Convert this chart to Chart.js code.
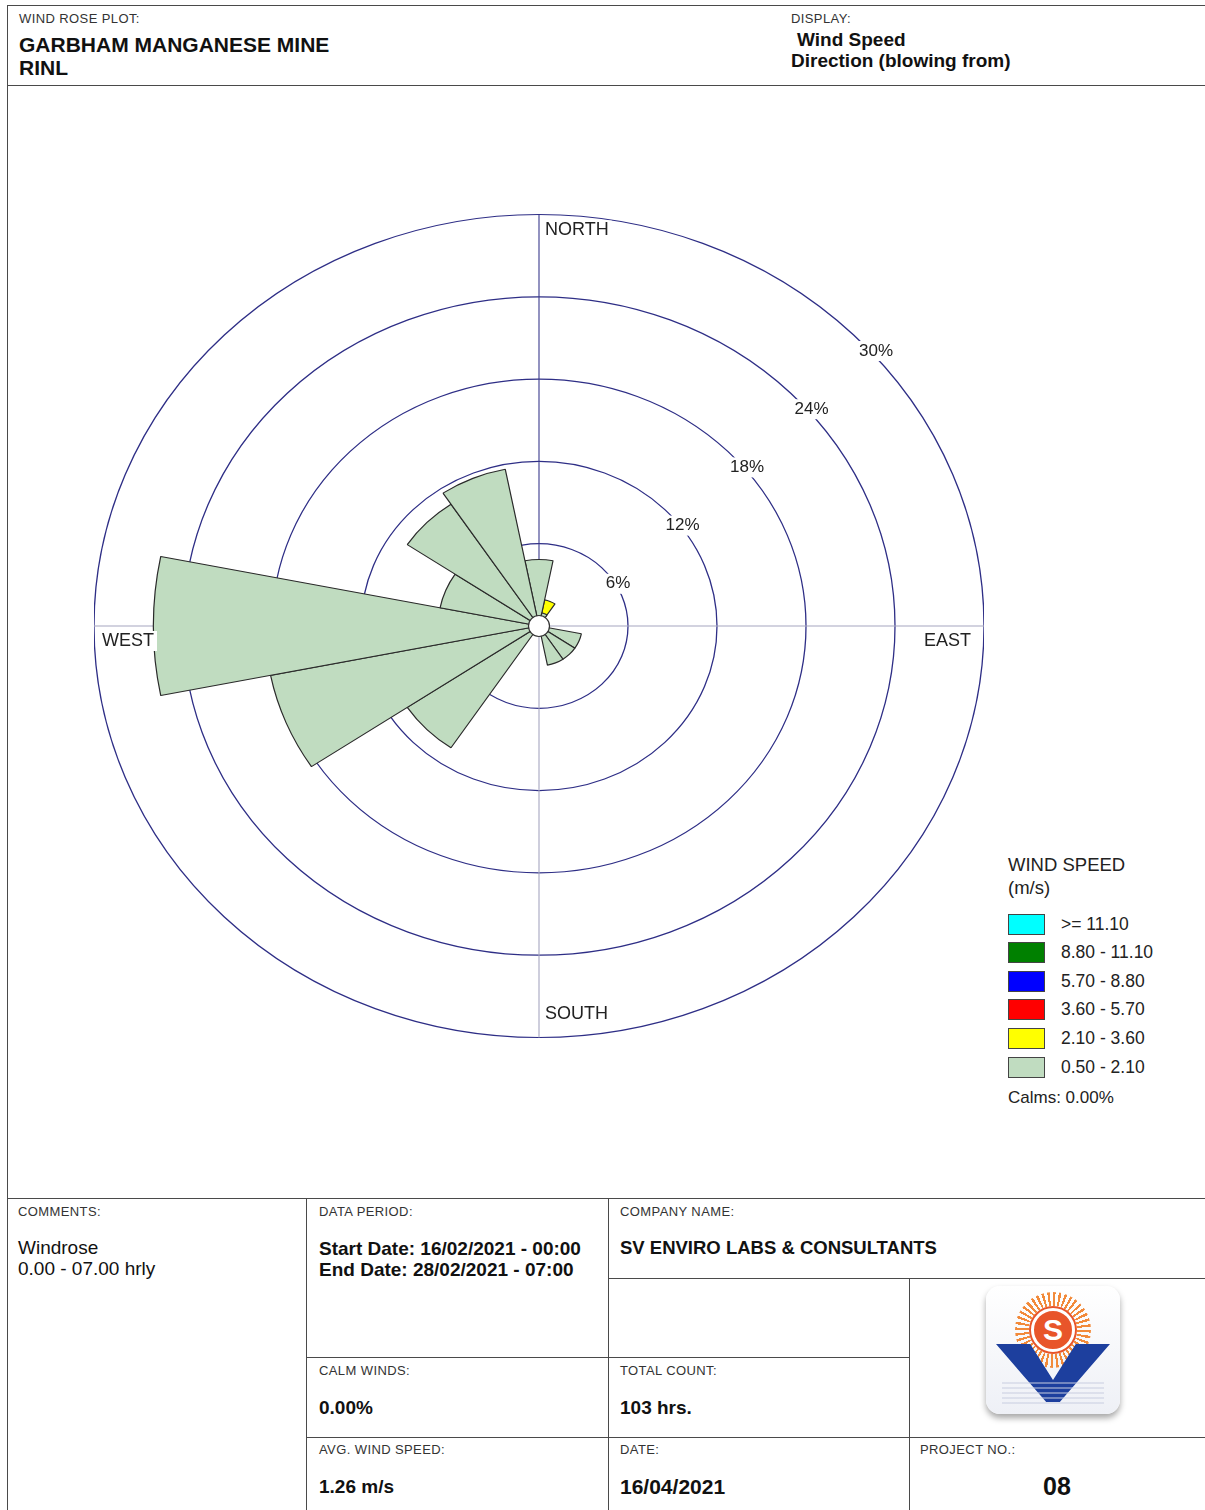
<!DOCTYPE html>
<html>
<head>
<meta charset="utf-8">
<title>Wind Rose</title>
<script src="https://cdn.jsdelivr.net/npm/chart.js@4.4.0/dist/chart.umd.min.js"></script>
<style>
  body { margin: 0; background: #fff; font-family: "Liberation Sans", Arial, sans-serif; color: #111; }
  #page { position: relative; width: 1205px; height: 1510px; overflow: hidden; background: #fff; }
  .t { position: absolute; white-space: nowrap; line-height: 1; }
  .small { font-size: 13px; letter-spacing: 0.4px; color: #333; }
  .bold { font-weight: bold; font-size: 19px; }
  .h { position: absolute; height: 0; border-top: 1.5px solid #4a4a4a; }
  .v { position: absolute; width: 0; border-left: 1.5px solid #4a4a4a; }
  #chartBox { position: absolute; left: 94px; top: 181px; width: 890px; height: 890px; }
  .sw { position: absolute; left: 1008px; width: 35px; height: 19px; border: 1px solid #444; }
  #logo { position: absolute; left: 986px; top: 1286px; width: 134px; height: 128px; border-radius: 14px;
          background: linear-gradient(#ffffff, #eef0f6); box-shadow: 0 4px 6px rgba(0,0,0,0.35); overflow: hidden; }
</style>
</head>
<body>
<div id="page">
  <!-- frame -->
  <div class="h" style="left:7px; top:5px; width:1198px;"></div>
  <div class="v" style="left:7px; top:5px; height:1505px;"></div>
  <div class="h" style="left:7px; top:85px; width:1198px;"></div>
  <div class="h" style="left:7px; top:1198px; width:1198px;"></div>
  <div class="v" style="left:306px; top:1198px; height:312px;"></div>
  <div class="v" style="left:608px; top:1198px; height:312px;"></div>
  <div class="h" style="left:608px; top:1278px; width:597px;"></div>
  <div class="h" style="left:306px; top:1357px; width:603px;"></div>
  <div class="v" style="left:909px; top:1278px; height:232px;"></div>
  <div class="h" style="left:306px; top:1437px; width:899px;"></div>

  <!-- header -->
  <div class="t small" style="left:19px; top:12px;">WIND ROSE PLOT:</div>
  <div class="t bold" style="left:19px; top:34px; font-size:21px;">GARBHAM MANGANESE MINE</div>
  <div class="t bold" style="left:19px; top:57px; font-size:21px;">RINL</div>
  <div class="t small" style="left:791px; top:12px;">DISPLAY:</div>
  <div class="t bold" style="left:797px; top:30px;">Wind Speed</div>
  <div class="t bold" style="left:791px; top:51px;">Direction (blowing from)</div>

  <!-- chart -->
  <div id="chartBox"><canvas id="rose"></canvas></div>

  <!-- legend -->
  <div id="legend"></div>

  <!-- footer -->
  <div class="t small" style="left:18px; top:1205px;">COMMENTS:</div>
  <div class="t" style="left:18px; top:1238px; font-size:19px;">Windrose</div>
  <div class="t" style="left:18px; top:1259px; font-size:19px;">0.00 - 07.00 hrly</div>

  <div class="t small" style="left:319px; top:1205px;">DATA PERIOD:</div>
  <div class="t bold" style="left:319px; top:1239px;">Start Date: 16/02/2021 - 00:00</div>
  <div class="t bold" style="left:319px; top:1260px;">End Date: 28/02/2021 - 07:00</div>

  <div class="t small" style="left:620px; top:1205px;">COMPANY NAME:</div>
  <div class="t bold" style="left:620px; top:1239px; font-size:18.5px;">SV ENVIRO LABS &amp; CONSULTANTS</div>

  <div class="t small" style="left:319px; top:1364px;">CALM WINDS:</div>
  <div class="t bold" style="left:319px; top:1398px;">0.00%</div>
  <div class="t small" style="left:620px; top:1364px;">TOTAL COUNT:</div>
  <div class="t bold" style="left:620px; top:1398px;">103 hrs.</div>

  <div class="t small" style="left:319px; top:1443px;">AVG. WIND SPEED:</div>
  <div class="t bold" style="left:319px; top:1477px;">1.26 m/s</div>
  <div class="t small" style="left:620px; top:1443px;">DATE:</div>
  <div class="t bold" style="left:620px; top:1476px; font-size:21px;">16/04/2021</div>
  <div class="t small" style="left:920px; top:1443px;">PROJECT NO.:</div>
  <div class="t bold" style="left:1043px; top:1474px; font-size:25px;">08</div>

  <!-- logo -->
  <div id="logo">
    <div style="position:absolute; left:29px; top:6px; width:76px; height:76px; border-radius:50%;
                background: repeating-conic-gradient(#f28a3a 0deg 4deg, rgba(255,255,255,0) 4deg 9deg);"></div>
    <div style="position:absolute; left:43px; top:20px; width:48px; height:48px; border-radius:50%; background:#fff;"></div>
    <div style="position:absolute; left:45px; top:22px; width:38px; height:38px; border-radius:50%; background:#e8552a;
                border:3px solid #fff; box-shadow:0 0 0 2px #e8552a; color:#fff; font-weight:bold; font-size:30px;
                text-align:center; line-height:38px;">S</div>
    <div style="position:absolute; left:10px; top:58px; width:114px; height:58px; background:#1d3f9e;
                clip-path: polygon(0 0, 30% 0, 50% 62%, 70% 0, 100% 0, 56% 100%, 44% 100%);"></div>
    <div style="position:absolute; left:16px; top:96px; width:102px; height:22px; opacity:0.5;
                background: repeating-linear-gradient(#c8cde0 0 2px, rgba(255,255,255,0) 2px 5px);"></div>
  </div>
</div>

<script>
// wind directions (blowing from), clockwise from north
const directions = ['N', 'NNE', 'NE', 'ENE', 'E', 'ESE', 'SE', 'SSE', 'S', 'SSW', 'SW', 'WSW', 'W', 'WNW', 'NW', 'NNW'];
// frequency (%) per speed class
const speed050to210 = [4.85, 0.97, 0, 0, 0, 2.91, 2.91, 2.91, 0, 0, 10.68, 18.45, 26.0, 6.80, 10.68, 11.65];
const speed210to360 = [0, 0.97, 0, 0, 0, 0, 0, 0, 0, 0, 0, 0, 0, 0, 0, 0];
const ringTicks = [6, 12, 18, 24, 30];
const compassLabels = ['NORTH', 'EAST', 'SOUTH', 'WEST'];
const speedClasses = ['>= 11.10', '8.80 - 11.10', '5.70 - 8.80', '3.60 - 5.70', '2.10 - 3.60', '0.50 - 2.10'];
const classColors = ['#00ffff', '#008000', '#0000ff', '#ff0000', '#ffff00', '#c0dcc0'];
const calms = '0.00%';

// legend
const legend = document.getElementById('legend');
let html = '<div class="t" style="left:1008px; top:856px; font-size:18.5px; color:#222;">WIND SPEED</div>' +
           '<div class="t" style="left:1008px; top:879px; font-size:18.5px; color:#222;">(m/s)</div>';
speedClasses.forEach((s, i) => {
  const cy = 924 + i * 28.6;
  html += `<div class="sw" style="top:${cy - 10.5}px; background:${classColors[i]};"></div>`;
  html += `<div class="t" style="left:1061px; top:${cy - 8.5}px; font-size:17.5px; color:#222;">${s}</div>`;
});
html += `<div class="t" style="left:1008px; top:1089px; font-size:17px; color:#222;">Calms: ${calms}</div>`;
legend.innerHTML = html;

// yellow sits on top of the green class, so its outer edge is the running total
const yellowOuter = speed210to360.map((v, i) => v > 0 ? speed050to210[i] + v : 0);

const KY = 411.5 / 445; // the rose is drawn slightly squashed vertically

function box(c, text, x, y, align) {
  const w = c.measureText(text).width;
  const left = align === 'left' ? x : align === 'right' ? x - w : x - w / 2;
  c.fillStyle = '#fff';
  c.fillRect(left - 3, y - 10, w + 6, 20);
  c.fillStyle = '#222';
  c.textAlign = align;
  c.textBaseline = 'middle';
  c.fillText(text, x, y);
}

const rosePlugin = {
  id: 'rose',
  beforeDraw(chart) {
    const r = chart.scales.r, c = chart.ctx;
    c.save();
    c.translate(r.xCenter, r.yCenter);
    c.scale(1, KY);
    c.translate(-r.xCenter, -r.yCenter);
  },
  beforeDatasetsDraw(chart) {
    const r = chart.scales.r, c = chart.ctx, R = r.drawingArea;
    const x = r.xCenter, y = r.yCenter;
    c.save();
    c.lineWidth = 1.1;
    c.strokeStyle = '#3a3a8c';
    c.beginPath(); c.moveTo(x, y - R); c.lineTo(x, y); c.stroke();
    c.strokeStyle = '#a6a6c0';
    c.beginPath(); c.moveTo(x, y); c.lineTo(x, y + R); c.stroke();
    c.beginPath(); c.moveTo(x - R, y); c.lineTo(x + R, y); c.stroke();
    c.restore();
  },
  afterDraw(chart) {
    const r = chart.scales.r, c = chart.ctx, R = r.drawingArea;
    const x = r.xCenter, y = r.yCenter;
    c.restore();
    c.save();
    // calm circle
    c.beginPath();
    c.arc(x, y, 10.5, 0, Math.PI * 2);
    c.fillStyle = '#fff';
    c.fill();
    c.lineWidth = 1.2;
    c.strokeStyle = '#333';
    c.stroke();
    // ring labels
    c.font = '17px "Liberation Sans", Arial, sans-serif';
    ringTicks.forEach(v => {
      const d = r.getDistanceFromCenterForValue(v);
      const px = x + d * 1.025 * Math.SQRT1_2 + 14.5;
      const py = y - d * Math.SQRT1_2 * KY + 16;
      box(c, v + '%', px, py, 'center');
    });
    // compass labels
    c.font = '18px "Liberation Sans", Arial, sans-serif';
    const Ry = R * KY;
    box(c, compassLabels[0], x + 6, y - Ry + 16, 'left');
    box(c, compassLabels[1], x + R - 13, y + 15, 'right');
    box(c, compassLabels[2], x + 6, y + Ry - 23, 'left');
    box(c, compassLabels[3], x - R + 8, y + 15, 'left');
    c.restore();
  }
};

new Chart(document.getElementById('rose'), {
  type: 'polarArea',
  data: {
    labels: directions,
    datasets: [
      { label: speedClasses[5], data: speed050to210, backgroundColor: classColors[5], borderColor: '#2a2a2a', borderWidth: 1.2 },
      { label: speedClasses[4], data: yellowOuter, backgroundColor: classColors[4], borderColor: '#2a2a2a', borderWidth: 1.2 }
    ]
  },
  options: {
    responsive: true,
    maintainAspectRatio: false,
    animation: false,
    layout: { padding: 0 },
    plugins: { legend: { display: false }, tooltip: { enabled: false } },
    scales: {
      r: {
        min: 0,
        max: 30,
        startAngle: -11.25,
        ticks: { display: false, stepSize: 6 },
        grid: { color: '#2e2e86', lineWidth: 1.3 },
        angleLines: { display: false },
        pointLabels: { display: false }
      }
    }
  },
  plugins: [rosePlugin]
});
</script>
</body>
</html>
